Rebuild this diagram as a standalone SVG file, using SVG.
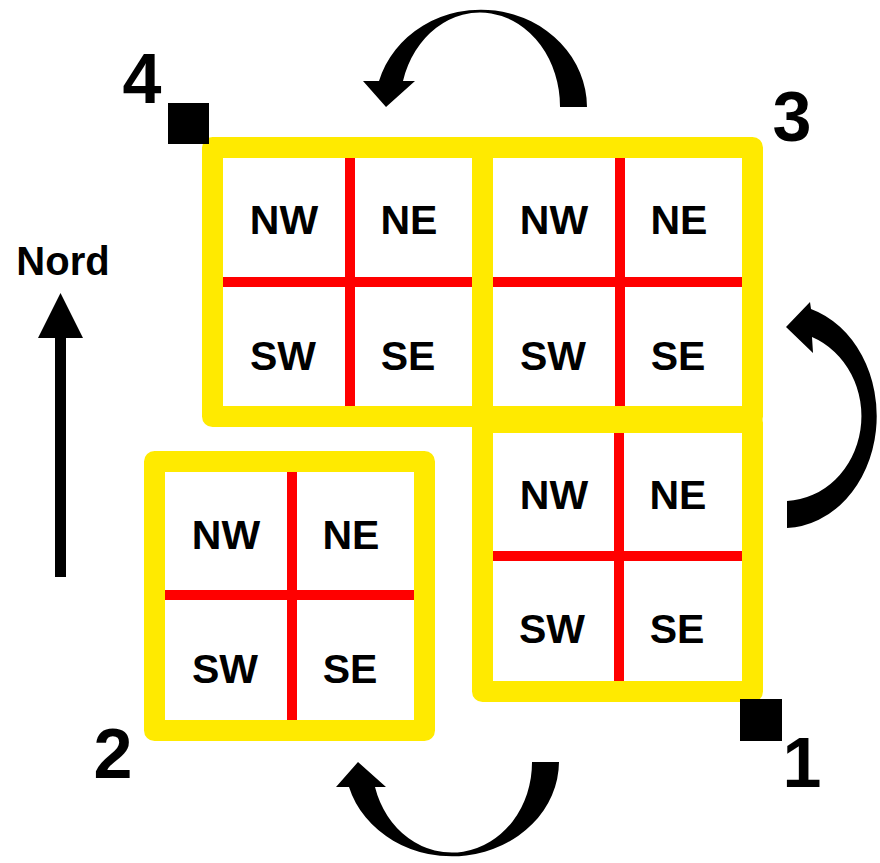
<svg xmlns="http://www.w3.org/2000/svg" width="880" height="863" viewBox="0 0 880 863">
<style>
.frame{fill:#fff;stroke:#FFEA00;stroke-width:21;stroke-linejoin:round}
.red{stroke:#FF0000;stroke-width:10;fill:none}
.q{font-family:"Liberation Sans",Arial,sans-serif;font-weight:bold;font-size:41px;fill:#000;text-anchor:middle}
.num{font-family:"Liberation Sans",Arial,sans-serif;font-weight:bold;font-size:70px;fill:#000;text-anchor:middle}
.nord{font-family:"Liberation Sans",Arial,sans-serif;font-weight:bold;font-size:40px;fill:#000;text-anchor:middle}
.arr{fill:#000}
</style>
<rect width="880" height="863" fill="#fff"/>

<g id="block4">
<rect class="frame" x="212.5" y="147.5" width="270" height="269"/>
<line class="red" x1="350" y1="158" x2="350" y2="406"/>
<line class="red" x1="223" y1="282" x2="472" y2="282"/>
<text class="q" x="284" y="234">NW</text>
<text class="q" x="409" y="234">NE</text>
<text class="q" x="283" y="370">SW</text>
<text class="q" x="408" y="370">SE</text>
</g>

<g id="block3">
<rect class="frame" x="482.5" y="147.5" width="270" height="269"/>
<line class="red" x1="620" y1="158" x2="620" y2="406"/>
<line class="red" x1="493" y1="282" x2="742" y2="282"/>
<text class="q" x="554" y="234">NW</text>
<text class="q" x="679" y="234">NE</text>
<text class="q" x="553" y="370">SW</text>
<text class="q" x="678" y="370">SE</text>
</g>

<g id="block1">
<rect class="frame" x="482.5" y="422.5" width="270" height="269"/>
<line class="red" x1="619" y1="433" x2="619" y2="681"/>
<line class="red" x1="493" y1="556" x2="742" y2="556"/>
<text class="q" x="554" y="509">NW</text>
<text class="q" x="678" y="509">NE</text>
<text class="q" x="552" y="643">SW</text>
<text class="q" x="677" y="643">SE</text>
</g>

<g id="block2">
<rect class="frame" x="154.5" y="461.5" width="270" height="269"/>
<line class="red" x1="292" y1="472" x2="292" y2="720"/>
<line class="red" x1="165" y1="595" x2="414" y2="595"/>
<text class="q" x="226" y="549">NW</text>
<text class="q" x="351" y="549">NE</text>
<text class="q" x="225" y="683">SW</text>
<text class="q" x="350" y="683">SE</text>
</g>

<g id="corner4">
<rect x="168" y="103" width="41" height="41" fill="#000"/>
<text class="num" x="142" y="103">4</text>
</g>
<g id="corner3">
<text class="num" x="792" y="141">3</text>
</g>
<g id="corner1">
<rect x="740" y="699" width="42" height="42" fill="#000"/>
<text class="num" x="802" y="787">1</text>
</g>
<g id="corner2">
<text class="num" x="113" y="778">2</text>
</g>

<g id="north">
<text class="nord" x="63" y="275">Nord</text>
<rect x="55" y="336" width="11" height="241" fill="#000"/>
<polygon points="60.5,293 38,338 83,338" fill="#000"/>
</g>

<g id="connectors">
<path class="arr" d="M587,107 A106 98 0 0 0 379,81 L363,81 L386,107 L415,81 L403,81 A80 94 0 0 1 560,107 Z"/>
<path class="arr" d="M787,528 A93 112 0 0 0 811,309 L810,302 L786,327 L813,353 L812,337 A78 85 0 0 1 787,501 Z"/>
<path class="arr" d="M559,762 A107 95 0 0 1 349,787 L336,787 L358,762 L386,787 L375,787 A80 90 0 0 0 532,762 Z"/>
</g>
</svg>
